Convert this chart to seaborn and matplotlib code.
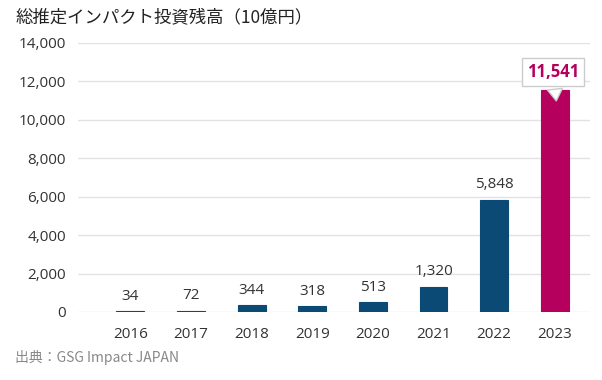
import numpy as np
import pandas as pd
import matplotlib
matplotlib.use("Agg")
import matplotlib.pyplot as plt
import seaborn as sns

# Data
years = ["2016", "2017", "2018", "2019", "2020", "2021", "2022", "2023"]
values = [34, 72, 344, 318, 513, 1320, 5848, 11541]
bar_colors = ["#0b4a74"] * 7 + ["#b5005e"]

df = pd.DataFrame({"year": years, "value": values})

sns.set_style("white")
plt.rcParams["font.family"] = ["Open Sans", "Noto Sans CJK JP", "DejaVu Sans"]

fig = plt.figure(figsize=(6.02, 3.8), dpi=100)
ax = fig.add_axes([0.13, 0.179, 0.85, 0.708])

sns.barplot(data=df, x="year", y="value", hue="year", palette=bar_colors,
            legend=False, width=0.46, saturation=1, ax=ax, zorder=3)
for p, c in zip(ax.patches, bar_colors):
    p.set_edgecolor(c)
    p.set_linewidth(0.8)

ax.set_ylim(0, 14000)
ax.set_xlim(-0.86, 7.58)
ax.set_yticks(np.arange(0, 14001, 2000))
ax.set_yticklabels([f"{v:,}" for v in range(0, 14001, 2000)])
ax.grid(axis="y", color="#e2e2e2", linewidth=1, zorder=0)
for s in ax.spines.values():
    s.set_visible(False)
ax.tick_params(axis="both", length=0, labelsize=11, colors="#333333")
ax.tick_params(axis="x", pad=11)
ax.tick_params(axis="y", pad=9)
ax.set_xlabel("")
ax.set_ylabel("")

# value labels
for i, v in enumerate(values[:-1]):
    ax.text(i, v + 380, f"{v:,}", ha="center", va="bottom", fontsize=11, color="#333333")

# callout for latest year
ax.annotate(f"{values[-1]:,}", xy=(7.03, values[-1] - 700), xytext=(6.97, values[-1] + 950),
            ha="center", va="center", fontsize=12, fontweight="bold", color="#b5005e",
            bbox=dict(boxstyle="square,pad=0.3", fc="white", ec="#cccccc", lw=1),
            arrowprops=dict(arrowstyle="wedge,tail_width=0.9,shrink_factor=0.5",
                            fc="white", ec="#cccccc", lw=1),
            zorder=5)

fig.text(0.025, 0.955, "総推定インパクト投資残高（10億円）", fontsize=12.5, color="#222222",
         family=["Noto Sans CJK JP", "DejaVu Sans"], va="center")
fig.text(0.025, 0.06, "出典：GSG Impact JAPAN", fontsize=10, color="#888888",
         family=["Noto Sans CJK JP", "DejaVu Sans"], va="center")

fig.savefig("out.png", dpi=100)
